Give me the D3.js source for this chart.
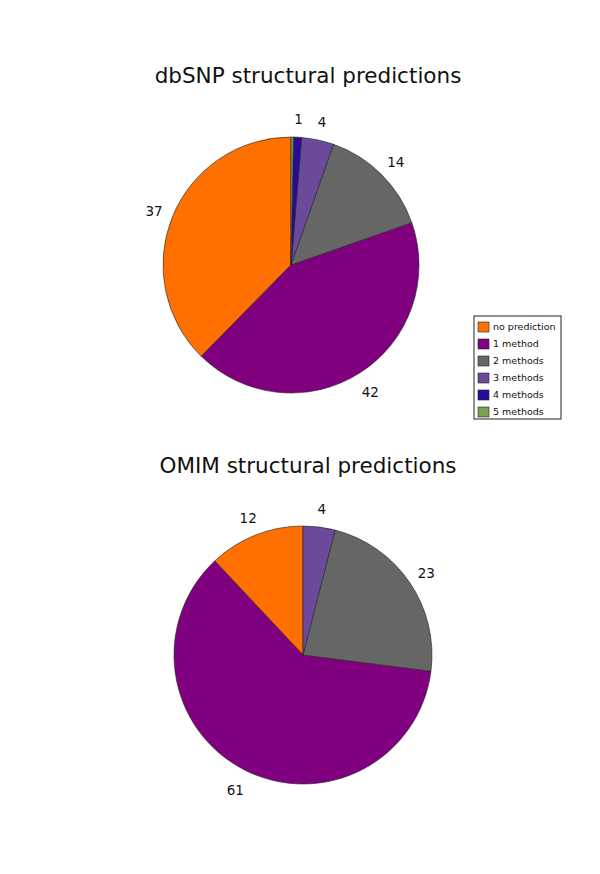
<!DOCTYPE html>
<meta charset="utf-8">
<style>
body { margin: 0; background: #fff; }
.title { font: 21.5px "DejaVu Sans", sans-serif; fill: #111; }
.label { font: 13.5px "DejaVu Sans", sans-serif; fill: #111; }
.legend text { font: 9.5px "DejaVu Sans", sans-serif; fill: #111; }
.slice { stroke: #222; stroke-width: 0.6px; }
</style>
<svg width="600" height="874"></svg>
<script src="https://d3js.org/d3.v7.min.js"></script>
<script>
var categories = ["no prediction", "1 method", "2 methods", "3 methods", "4 methods", "5 methods"];
var colors = ["#ff7000", "#800080", "#666666", "#6b4a9b", "#2a0a9a", "#77a24c"];
var dbsnpValues = [37, 42, 14, 4, 1, 0.3];
var omimValues = [12, 61, 23, 4, 0, 0];

var svg = d3.select("svg");

var color = d3.scaleOrdinal().domain(categories).range(colors);

// slices run counter-clockwise from 12 o'clock
var pie = d3.pie().sort(null).startAngle(0).endAngle(-2 * Math.PI)
    .value(function(d) { return d.value; });

function drawPie(title, values, cx, cy, r, titleX, titleY) {
  svg.append("text")
      .attr("class", "title")
      .attr("x", titleX)
      .attr("y", titleY)
      .attr("text-anchor", "middle")
      .text(title);

  var data = categories.map(function(c, i) { return {cat: c, value: values[i]}; });
  var arc = d3.arc().innerRadius(0).outerRadius(r);
  var labelArc = d3.arc().innerRadius(r + 20).outerRadius(r + 20);

  var g = svg.append("g").attr("transform", "translate(" + cx + "," + cy + ")");
  var arcs = pie(data).filter(function(d) { return d.value > 0; });

  g.selectAll(".slice")
      .data(arcs)
    .enter().append("path")
      .attr("class", "slice")
      .attr("d", arc)
      .attr("fill", function(d) { return color(d.data.cat); });

  g.selectAll(".label")
      .data(arcs.filter(function(d) { return d.value >= 1; }))
    .enter().append("text")
      .attr("class", "label")
      .attr("transform", function(d) { return "translate(" + labelArc.centroid(d) + ")"; })
      .attr("text-anchor", "middle")
      .attr("dy", "0.5em")
      .text(function(d) { return d3.format("d")(d.value); });
}

drawPie("dbSNP structural predictions", dbsnpValues, 291, 265, 128, 308, 83);
drawPie("OMIM structural predictions", omimValues, 303, 655, 129, 308, 473);

// legend
var legend = svg.append("g").attr("class", "legend").attr("transform", "translate(474,316)");
legend.append("rect")
    .attr("width", 87).attr("height", 103)
    .attr("fill", "#fff").attr("stroke", "#222").attr("stroke-width", 1);
var item = legend.selectAll(".item")
    .data(categories)
  .enter().append("g")
    .attr("class", "item")
    .attr("transform", function(d, i) { return "translate(4," + (6 + i * 17) + ")"; });
item.append("rect")
    .attr("width", 11).attr("height", 10)
    .attr("fill", function(d) { return color(d); })
    .attr("stroke", "#222").attr("stroke-width", 0.6);
item.append("text")
    .attr("x", 15).attr("y", 5)
    .attr("dy", "0.35em")
    .text(function(d) { return d; });
</script>
